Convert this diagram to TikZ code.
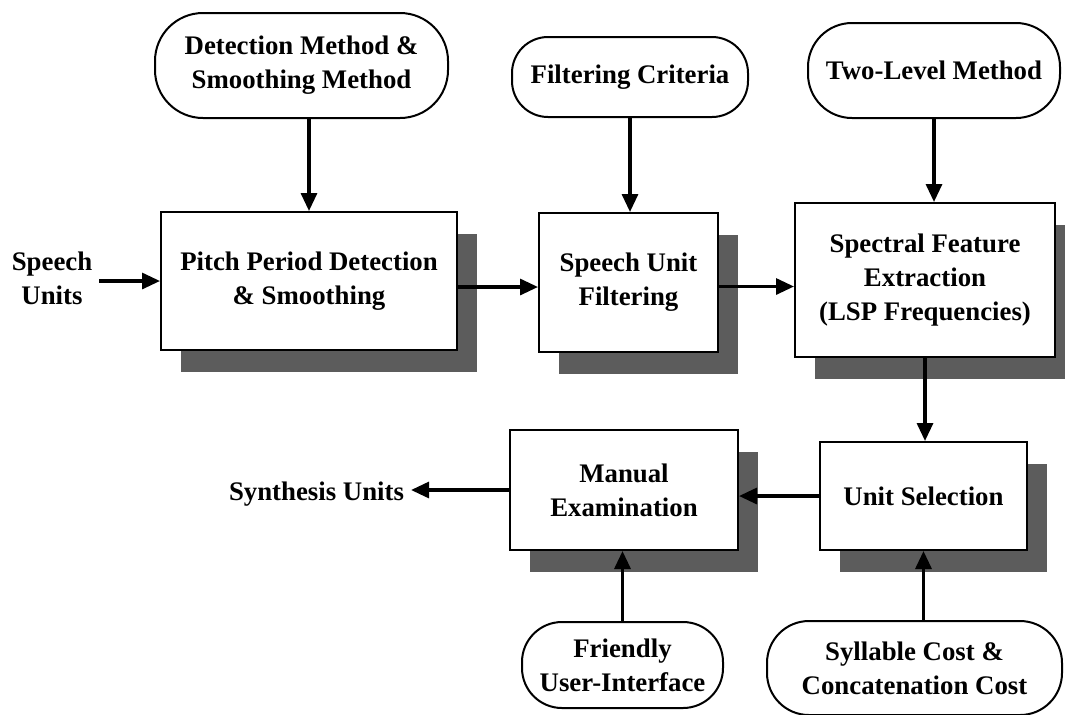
\documentclass[tikz,border=0pt]{standalone}
\usepackage{fontspec}
\setmainfont{Liberation Serif}
\usetikzlibrary{arrows.meta,shadows}
\begin{document}
\begin{tikzpicture}[x=0.5pt,y=-0.5pt,
  lbl/.style={font=\fontsize{13.4}{17}\selectfont\bfseries, align=center},
  procbox/.style={lbl, draw=black, line width=1pt, fill=white, inner sep=0pt,
    drop shadow={shadow xshift=10pt, shadow yshift=-11pt, fill=black!64, opacity=1}},
  termnode/.style={lbl, draw=black, line width=1pt, fill=white, inner sep=0pt},
  arr/.style={line width=1.6pt, -{Triangle[length=9pt,width=8pt]}}]
\useasboundingbox (0,0) rectangle (1065,714);
% input ovals
\node[termnode, minimum width=146.5pt, minimum height=52.5pt, rounded corners=24pt] (o1) at (301.5,65.5) {Detection Method \&\\Smoothing Method};
\node[termnode, minimum width=118pt, minimum height=40pt, rounded corners=18pt] (o2) at (630,77) {Filtering Criteria};
\node[termnode, minimum width=126pt, minimum height=47.5pt, rounded corners=22pt] (o3) at (934,70.5) {Two-Level Method};
\node[termnode, minimum width=100.5pt, minimum height=43pt, rounded corners=20pt] (fr) at (622.5,665) {Friendly\\User-Interface};
\node[termnode, minimum width=147.5pt, minimum height=47pt, rounded corners=21pt] (sy) at (914.5,668) {Syllable Cost \&\\Concatenation Cost};
% process boxes
\node[procbox, minimum width=148pt, minimum height=69pt] (b1) at (309,281) {Pitch Period Detection\\\& Smoothing};
\node[procbox, minimum width=89.5pt, minimum height=69.5pt] (b2) at (628.5,282.5) {Speech Unit\\Filtering};
\node[procbox, minimum width=130pt, minimum height=77pt] (b3) at (925,280) {Spectral Feature\\Extraction\\(LSP Frequencies)};
\node[procbox, minimum width=103.5pt, minimum height=54pt] (us) at (923.5,496) {Unit Selection};
\node[procbox, minimum width=114pt, minimum height=60pt] (me) at (624,490) {Manual\\Examination};
% free labels
\node[lbl] (su) at (52,278) {Speech\\Units};
\node[lbl] (syn) at (316.5,494) {Synthesis Units};
% connectors
\draw[arr] (su.east |- b1.west) -- (b1.west);
\draw[arr] (b1.north |- o1.south) -- (b1.north);
\draw[arr] (o2.south) -- (o2.south |- b2.north);
\draw[arr] (o3.south) -- (o3.south |- b3.north);
\draw[arr] ([yshift=-3pt]b1.east) -- ([yshift=-3pt]b1.east -| b2.west);
\draw[arr] ([yshift=-2pt]b2.east) -- ([yshift=-2pt]b2.east -| b3.west);
\draw[arr] (b3.south) -- (b3.south |- us.north);
\draw[arr] (us.west) -- (us.west -| me.east);
\draw[arr] (me.west) -- (me.west -| syn.east);
\draw[arr] (fr.north) -- (fr.north |- me.south);
\draw[arr] (us.south |- sy.north) -- (us.south);
\end{tikzpicture}
\end{document}
